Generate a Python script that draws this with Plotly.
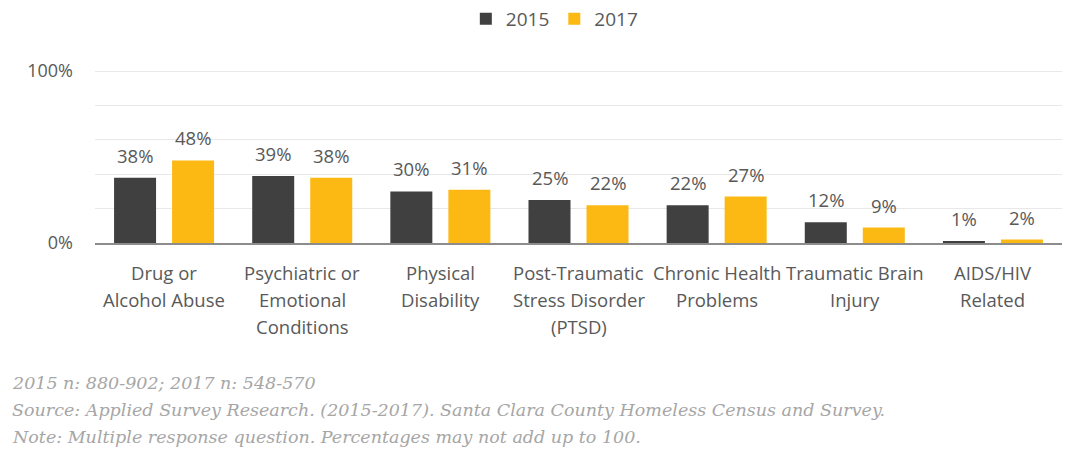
import plotly.graph_objects as go

categories = [
    "Drug or<br>Alcohol Abuse",
    "Psychiatric or<br>Emotional<br>Conditions",
    "Physical<br>Disability",
    "Post-Traumatic<br>Stress Disorder<br>(PTSD)",
    "Chronic Health<br>Problems",
    "Traumatic Brain<br>Injury",
    "AIDS/HIV<br>Related",
]
values_2015 = [38, 39, 30, 25, 22, 12, 1]
values_2017 = [48, 38, 31, 22, 27, 9, 2]
series_names = ["2015", "2017"]
y_tick_vals = [0, 20, 40, 60, 80, 100]
y_tick_text = ["0%", "", "", "", "", "100%"]
notes = [
    "2015 n: 880-902; 2017 n: 548-570",
    "Source: Applied Survey Research. (2015-2017). Santa Clara County Homeless Census and Survey.",
    "Note: Multiple response question. Percentages may not add up to 100.",
]

DARK = "#404040"
GOLD = "#FDB913"
TEXT = "#595959"
FONT = "Open Sans"

fig = go.Figure()
fig.add_trace(go.Bar(name=series_names[0], x=categories, y=values_2015,
                     marker=dict(color=DARK, line_width=0)))
fig.add_trace(go.Bar(name=series_names[1], x=categories, y=values_2017,
                     marker=dict(color=GOLD, line_width=0)))

# value labels above each bar
for vals, shift in ((values_2015, -29), (values_2017, 29)):
    for c, v in zip(categories, vals):
        fig.add_annotation(x=c, y=v, text=f"{v}%", showarrow=False,
                           xshift=shift, yshift=8, yanchor="bottom",
                           font=dict(family=FONT, size=18.5, color=TEXT))

# category labels under the axis, one line at a time
for c in categories:
    for j, part in enumerate(c.split("<br>")):
        fig.add_annotation(x=c, y=0, yref="y", text=part, showarrow=False,
                           yanchor="middle", yshift=-29 - 27 * j,
                           font=dict(family=FONT, size=18.5, color=TEXT))

# footnotes
for i, line in enumerate(notes):
    fig.add_annotation(xref="paper", yref="paper", x=-0.088, y=0,
                       xanchor="left", yanchor="middle",
                       yshift=-140 - 27 * i, text=f"<i>{line}</i>",
                       showarrow=False,
                       font=dict(family="DejaVu Serif", size=17.5, color="#a6a6a6"))

fig.update_layout(
    width=1066, height=450,
    margin=dict(l=95, r=4, t=70, b=207),
    barmode="group", bargap=0.16, bargroupgap=0.276,
    plot_bgcolor="white", paper_bgcolor="white",
    font=dict(family=FONT, size=16, color=TEXT),
    legend=dict(orientation="h", x=0.475, xanchor="center", y=1.0,
                yref="container", yanchor="top",
                font=dict(family=FONT, size=19, color=TEXT),
                itemwidth=30, traceorder="normal"),
    xaxis=dict(showline=True, linecolor="#8c8c8c", linewidth=2,
               ticks="", showticklabels=False),
    yaxis=dict(range=[0, 100.6], tickvals=y_tick_vals, ticktext=y_tick_text,
               showgrid=True, gridcolor="#e8e8e8", gridwidth=1,
               zeroline=False, ticklabelstandoff=21,
               tickfont=dict(size=18, color=TEXT)),
)

fig.write_html("out.html")
